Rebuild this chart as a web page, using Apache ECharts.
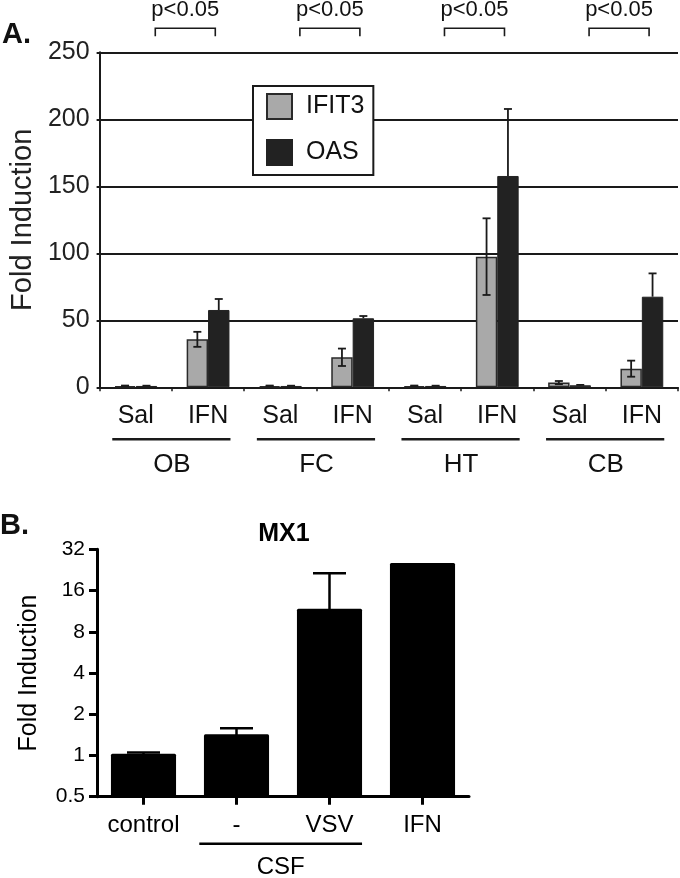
<!DOCTYPE html>
<html><head><meta charset="utf-8">
<script src="https://cdn.jsdelivr.net/npm/echarts@6/dist/echarts.min.js"></script>
<style>html,body{margin:0;padding:0;background:#fff}#c{width:680px;height:878px}</style>
</head><body><div id="c"></div>
<script>
// ---- Panel A data ----
const catsA = ['Sal','IFN','Sal','IFN','Sal','IFN','Sal','IFN'];
const groupsA = ['OB','FC','HT','CB'];
const pLabels = ['p<0.05','p<0.05','p<0.05','p<0.05'];
const ifit3 = [1.0, 35.8, 1.0, 22.4, 1.0, 97.5, 3.5, 13.9];
const ifit3Err = [0.3, 5.6, 0.3, 6.5, 0.3, 28.6, 1.2, 6.0];
const oas = [1.0, 57.7, 1.0, 51.5, 1.0, 157.7, 1.5, 67.6];
const oasErr = [0.2, 8.2, 0.2, 1.7, 0.2, 50.0, 0.3, 17.4];
// ---- Panel B data ----
const catsB = ['control','-','VSV','IFN'];
const mx1 = [1.03, 1.43, 11.8, 25.4];
const mx1Err = [0.02, 0.15, 9.6, 0];
const groupB = ['CSF'];

const FF = "'Liberation Sans', Arial, Helvetica, sans-serif";
const INK = '#1a1a1a';
const GAP_A = 0.408;

const chart = echarts.init(document.getElementById('c'), null, {renderer:'canvas'});

function errA(params, api){
  const i = api.value(0), v = api.value(1), e = api.value(2), s = api.value(3);
  const bw = api.size([1,0])[0];
  const barW = bw*(1-GAP_A)/2;
  const cx = api.coord([i, v])[0] + (s === 0 ? -barW/2 : barW/2);
  const yT = api.coord([i, v+e])[1];
  const yB = s === 0 ? api.coord([i, Math.max(v-e,0)])[1] : api.coord([i, v])[1];
  const cap = 4, st = {stroke: INK, lineWidth: 1.8};
  const ch = [
    {type:'line', shape:{x1:cx,y1:yT,x2:cx,y2:yB}, style:st},
    {type:'line', shape:{x1:cx-cap,y1:yT,x2:cx+cap,y2:yT}, style:st}
  ];
  if (s === 0) ch.push({type:'line', shape:{x1:cx-cap,y1:yB,x2:cx+cap,y2:yB}, style:st});
  return {type:'group', children:ch};
}

function groupA(params, api){
  const k = params.dataIndex;
  const c0 = api.coord([api.value(0), 0]), c1 = api.coord([api.value(1), 0]);
  const bw = api.size([1,0])[0];
  const start = c0[0] - bw/2;
  const y0 = c0[1];
  const top = api.coord([0, 250])[1];
  const u1 = start + 0.175*bw, u2 = start + 1.81*bw;
  const b1 = start + 0.77*bw, b2 = start + 1.6*bw;
  return {type:'group', children:[
    {type:'line', shape:{x1:u1,y1:y0+52,x2:u2,y2:y0+52}, style:{stroke:INK, lineWidth:2.5}},
    {type:'text', style:{text:groupsA[k], x:(c0[0]+c1[0])/2, y:y0+78, align:'center', verticalAlign:'middle', fontSize:26, fill:'#111', fontFamily:FF}},
    {type:'polyline', shape:{points:[[b1,top-16],[b1,top-24],[b2,top-24],[b2,top-16]]}, style:{stroke:INK, lineWidth:1.6, fill:null}},
    {type:'text', style:{text:pLabels[k], x:(b1+b2)/2, y:top-42, align:'center', verticalAlign:'middle', fontSize:22, fill:'#111', fontFamily:FF}}
  ]};
}

function barB(params, api){
  const i = api.value(0), v = api.value(1), e = api.value(2);
  const bw = api.size([1,1])[0];
  const barW = bw*0.70;
  const t = api.coord([i, v]), b = api.coord([i, 0.5]);
  const ch = [{type:'rect', shape:{x:t[0]-barW/2, y:t[1], width:barW, height:b[1]-t[1], r:1.5}, style:{fill:'#000'}}];
  if (e > 0) {
    const yE = api.coord([i, v+e])[1];
    const cap = 16.5;
    ch.push({type:'line', shape:{x1:t[0],y1:t[1]+1,x2:t[0],y2:yE}, style:{stroke:'#000', lineWidth:2.5}});
    ch.push({type:'line', shape:{x1:t[0]-cap,y1:yE,x2:t[0]+cap,y2:yE}, style:{stroke:'#000', lineWidth:2.5}});
  }
  return {type:'group', children:ch};
}

function groupBRender(params, api){
  const k = params.dataIndex;
  const c1 = api.coord([api.value(0), 0.5]), c2 = api.coord([api.value(1), 0.5]);
  const bw = api.size([1,1])[0];
  const x1 = c1[0] - 0.4*bw, x2 = c2[0] + 0.35*bw, y0 = c1[1];
  return {type:'group', children:[
    {type:'line', shape:{x1:x1,y1:y0+47,x2:x2,y2:y0+47}, style:{stroke:'#000', lineWidth:2.5}},
    {type:'text', style:{text:groupB[k], x:(x1+x2)/2, y:y0+71, align:'center', verticalAlign:'middle', fontSize:24, fill:'#000', fontFamily:FF}}
  ]};
}

const option = {
  animation:false,
  backgroundColor:'#fff',
  textStyle:{fontFamily:FF},
  grid:[
    {left:97, right:2, top:52.3, height:335},
    {left:97, right:211, top:549.3, bottom:81.3}
  ],
  legend:{
    data:['IFIT3','OAS'], left:253, top:86, orient:'vertical',
    itemWidth:25, itemHeight:25, itemGap:19, padding:[7,9,9,13],
    borderColor:INK, borderWidth:2, backgroundColor:'#fff', borderRadius:0,
    icon:'rect', selectedMode:false,
    textStyle:{fontSize:25, color:'#111', fontFamily:FF, padding:[0,0,0,9]}
  },
  graphic:[
    {type:'text', left:2, top:20, style:{text:'A.', fontSize:29, fontWeight:'bold', fill:'#111', fontFamily:FF}},
    {type:'text', left:0, top:511, style:{text:'B.', fontSize:29, fontWeight:'bold', fill:'#111', fontFamily:FF}},
    {type:'text', x:284, y:534, style:{text:'MX1', align:'center', verticalAlign:'middle', fontSize:25, fontWeight:'bold', fill:'#000', fontFamily:FF}}
  ],
  xAxis:[
    {type:'category', gridIndex:0, data:catsA,
     axisLine:{show:true, lineStyle:{color:INK, width:2}},
     axisTick:{show:true, length:4, lineStyle:{color:INK, width:1.5}},
     axisLabel:{interval:0, fontSize:25, color:'#111', margin:16, lineHeight:25, fontFamily:FF},
     splitLine:{show:false}},
    {type:'category', gridIndex:1, data:catsB,
     axisLine:{show:true, lineStyle:{color:'#000', width:3}},
     axisTick:{show:true, alignWithLabel:true, interval:0, length:8, lineStyle:{color:'#000', width:3}},
     axisLabel:{interval:0, hideOverlap:false, fontSize:24, color:'#000', margin:17, lineHeight:24, fontFamily:FF},
     splitLine:{show:false}}
  ],
  yAxis:[
    {type:'value', gridIndex:0, min:0, max:250, interval:50,
     name:'Fold Induction', nameLocation:'middle', nameGap:59,
     nameTextStyle:{fontSize:29, color:'#222', fontFamily:FF},
     axisLine:{show:true, lineStyle:{color:INK, width:2}},
     axisTick:{show:true, length:3, lineStyle:{color:INK, width:2}},
     axisLabel:{fontSize:25, color:'#222', margin:10, fontFamily:FF},
     splitLine:{show:true, lineStyle:{color:INK, width:2}}},
    {type:'log', logBase:2, gridIndex:1, min:0.5, max:32, splitNumber:6,
     name:'Fold Induction', nameLocation:'middle', nameGap:55,
     nameTextStyle:{fontSize:25, color:'#000', fontFamily:FF},
     axisLine:{show:true, lineStyle:{color:'#000', width:3}},
     axisTick:{show:true, length:8, lineStyle:{color:'#000', width:3}},
     axisLabel:{fontSize:21, color:'#000', margin:12, fontFamily:FF, formatter:v => String(v)},
     splitLine:{show:false}}
  ],
  series:[
    {name:'IFIT3', type:'bar', xAxisIndex:0, yAxisIndex:0, data:ifit3,
     barCategoryGap:(GAP_A*100)+'%', barGap:'0%',
     itemStyle:{color:'#a9a9a9', borderColor:'#2a2a2a', borderWidth:1.5}},
    {name:'OAS', type:'bar', xAxisIndex:0, yAxisIndex:0, data:oas,
     barCategoryGap:(GAP_A*100)+'%', barGap:'0%',
     itemStyle:{color:'#222', borderColor:'#222', borderWidth:1}},
    {type:'custom', xAxisIndex:0, yAxisIndex:0, renderItem:errA, z:5,
     encode:{x:0, y:1}, data:ifit3.map((v,i)=>[i, v, ifit3Err[i], 0])},
    {type:'custom', xAxisIndex:0, yAxisIndex:0, renderItem:errA, z:5,
     encode:{x:0, y:1}, data:oas.map((v,i)=>[i, v, oasErr[i], 1])},
    {type:'custom', xAxisIndex:0, yAxisIndex:0, renderItem:groupA, clip:false, silent:true,
     encode:{x:0}, data:groupsA.map((g,k)=>[2*k, 2*k+1])},
    {type:'custom', xAxisIndex:1, yAxisIndex:1, renderItem:barB, z:3,
     encode:{x:0, y:1}, data:mx1.map((v,i)=>[i, v, mx1Err[i]])},
    {type:'custom', xAxisIndex:1, yAxisIndex:1, renderItem:groupBRender, clip:false, silent:true,
     encode:{x:0}, data:[[1, 2]]}
  ]
};
chart.setOption(option);
</script></body></html>
